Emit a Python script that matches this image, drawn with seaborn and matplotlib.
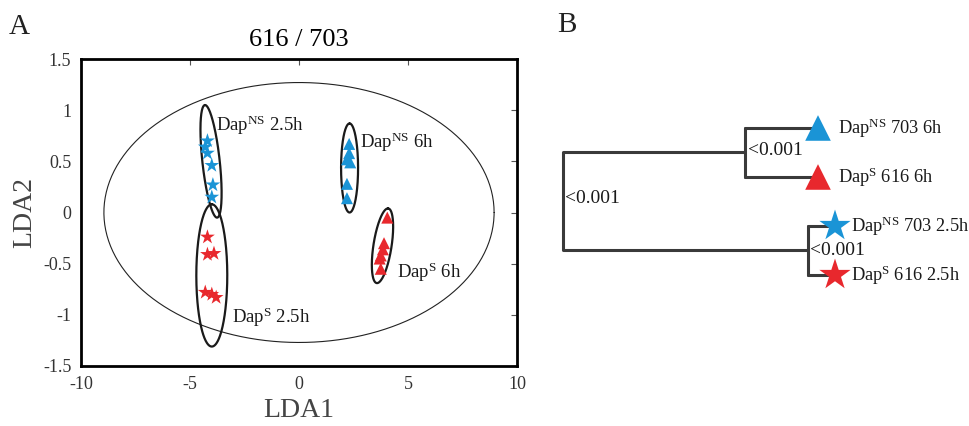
import numpy as np
import pandas as pd
import matplotlib
matplotlib.use("Agg")
import matplotlib.pyplot as plt
import seaborn as sns

# ---------------- data: panel A (LDA scores) ----------------
ns25_x = [-4.2, -4.3, -4.2, -4.0, -3.95, -4.0]
ns25_y = [0.70, 0.64, 0.58, 0.46, 0.27, 0.15]
s25_x = [-4.2, -4.2, -3.9, -4.3, -4.0, -3.8]
s25_y = [-0.24, -0.41, -0.40, -0.78, -0.80, -0.83]
ns6_x = [2.3, 2.3, 2.2, 2.35, 2.2, 2.2]
ns6_y = [0.67, 0.58, 0.52, 0.49, 0.28, 0.14]
s6_x = [4.05, 3.9, 3.85, 3.75, 3.7, 3.75]
s6_y = [-0.05, -0.30, -0.36, -0.42, -0.45, -0.55]

group_names = ["NS 2.5h", "S 2.5h", "NS 6h", "S 6h"]
group_strain = ["NS", "S", "NS", "S"]
group_time = ["2.5h", "2.5h", "6h", "6h"]

# group ellipses: major-axis end points (top, bottom) and minor half-width
ell_top = [(-4.31, 1.05), (-4.0, 0.08), (2.32, 0.87), (4.08, 0.04)]
ell_bot = [(-3.76, -0.05), (-4.0, -1.31), (2.32, 0.0), (3.58, -0.69)]
ell_w = [0.40, 0.71, 0.39, 0.42]
# overall ellipse
big_center = (0.0, 0.0)
big_a, big_b = 8.95, 1.27

labelA_text = [r"Dap$^{\mathrm{NS}}$ 2.5h", r"Dap$^{\mathrm{S}}$ 2.5h",
               r"Dap$^{\mathrm{NS}}$ 6h", r"Dap$^{\mathrm{S}}$ 6h"]
labelA_pos = [(-3.8, 0.85), (-3.07, -1.02), (2.8, 0.69), (4.5, -0.58)]

x_ticks = [-10, -5, 0, 5, 10]
y_ticks = [-1.5, -1, -0.5, 0, 0.5, 1, 1.5]

# ---------------- data: panel B (dendrogram) ----------------
leaf_labels = [r"Dap$^{\mathrm{NS}}$ 703 6h", r"Dap$^{\mathrm{S}}$ 616 6h",
               r"Dap$^{\mathrm{NS}}$ 703 2.5h", r"Dap$^{\mathrm{S}}$ 616 2.5h"]
leaf_strain = ["NS", "S", "NS", "S"]
leaf_time = ["6h", "6h", "2.5h", "2.5h"]
leaf_y = [0, 1, 2, 3]
leaf_x = [2.55, 2.55, 2.72, 2.72]
merge_upper_x = 1.82
merge_lower_x = 2.45
root_x = 0.0
p_labels = ["<0.001", "<0.001", "<0.001"]

# ---------------- style ----------------
sns.set_theme(style="white")
plt.rcParams["font.family"] = ["Liberation Serif", "DejaVu Serif"]
plt.rcParams["mathtext.fontset"] = "custom"
plt.rcParams["mathtext.rm"] = "Liberation Serif"
plt.rcParams["mathtext.it"] = "Liberation Serif:italic"
plt.rcParams["mathtext.bf"] = "Liberation Serif:bold"

BLUE = "#1A94D6"
RED = "#E8282D"
palette = {"NS": BLUE, "S": RED}
markers = {"2.5h": "*", "6h": "^"}

fig = plt.figure(figsize=(9.7, 4.26), dpi=100)
axA = fig.add_axes([81 / 970, 60 / 426, 436 / 970, 307 / 426])
axB = fig.add_axes([540 / 970, 126 / 426, 430 / 970, 200 / 426])

# ---------------- panel A ----------------
xs = [ns25_x, s25_x, ns6_x, s6_x]
ys = [ns25_y, s25_y, ns6_y, s6_y]
rows = []
for g, st, tm, gx, gy in zip(group_names, group_strain, group_time, xs, ys):
    for a, b in zip(gx, gy):
        rows.append({"LDA1": a, "LDA2": b, "strain": st, "time": tm})
dfA = pd.DataFrame(rows)

t = np.linspace(0, 2 * np.pi, 300)
# big ellipse
axA.plot(big_center[0] + big_a * np.cos(t), big_center[1] + big_b * np.sin(t),
         color="#222222", lw=0.8, zorder=1)
for top, bot, w in zip(ell_top, ell_bot, ell_w):
    cx, cy = (top[0] + bot[0]) / 2, (top[1] + bot[1]) / 2
    mx, my = top[0] - cx, top[1] - cy
    axA.plot(cx + mx * np.cos(t) + w * np.sin(t), cy + my * np.cos(t),
             color="#1a1a1a", lw=1.6, zorder=2)

for tm, sz in [("2.5h", 125), ("6h", 75)]:
    sub = dfA[dfA["time"] == tm]
    sns.scatterplot(data=sub, x="LDA1", y="LDA2", hue="strain", palette=palette,
                    marker=markers[tm], s=sz, linewidth=0, legend=False,
                    ax=axA, zorder=3)

for txt, (px, py) in zip(labelA_text, labelA_pos):
    axA.text(px, py, txt, fontsize=13.5, ha="left", va="center", color="#1a1a1a")

axA.set_xlim(-10, 10)
axA.set_ylim(-1.5, 1.5)
axA.set_xticks(x_ticks)
axA.set_xticklabels([f"{v:g}" for v in x_ticks])
axA.set_yticks(y_ticks)
axA.set_yticklabels([f"{v:g}" for v in y_ticks])
axA.tick_params(direction="in", length=4, width=0.8, top=True, right=True,
                labelsize=13, labelcolor="#333333", color="#555555", pad=7)
axA.set_xlabel("LDA1", fontsize=20, color="#444444", labelpad=4)
axA.set_ylabel("LDA2", fontsize=20, color="#444444", labelpad=4)
for sp in axA.spines.values():
    sp.set_visible(True)
    sp.set_color("black")
    sp.set_linewidth(2.0)

fig.text(299 / 970, 1 - 40 / 426, "616 / 703", fontsize=19, ha="center", va="center",
         color="black")
fig.text(19 / 970, 1 - 27 / 426, "A", fontsize=21, ha="center", va="center", color="#222222")
fig.text(567 / 970, 1 - 25 / 426, "B", fontsize=21, ha="center", va="center", color="#222222")

# ---------------- panel B ----------------
lc = "#3a3a3a"
lw = 2.2
axB.plot([root_x, root_x], [0.5, 2.5], color=lc, lw=lw, solid_capstyle="butt")
axB.plot([root_x, merge_upper_x], [0.5, 0.5], color=lc, lw=lw)
axB.plot([root_x, merge_lower_x], [2.5, 2.5], color=lc, lw=lw)
axB.plot([merge_upper_x, merge_upper_x], [leaf_y[0], leaf_y[1]], color=lc, lw=lw)
axB.plot([merge_lower_x, merge_lower_x], [leaf_y[2], leaf_y[3]], color=lc, lw=lw)
for i in range(2):
    axB.plot([merge_upper_x, leaf_x[i]], [leaf_y[i], leaf_y[i]], color=lc, lw=lw)
for i in range(2, 4):
    axB.plot([merge_lower_x, leaf_x[i]], [leaf_y[i], leaf_y[i]], color=lc, lw=lw)

dfB = pd.DataFrame({"x": leaf_x, "y": leaf_y, "strain": leaf_strain, "time": leaf_time})
for tm, sz in [("2.5h", 560), ("6h", 340)]:
    sub = dfB[dfB["time"] == tm]
    sns.scatterplot(data=sub, x="x", y="y", hue="strain", palette=palette,
                    marker=markers[tm], s=sz, linewidth=0, legend=False,
                    ax=axB, zorder=3)

for i, lab in enumerate(leaf_labels):
    off = 0.20 if leaf_time[i] == "6h" else 0.16
    axB.text(leaf_x[i] + off, leaf_y[i], lab, fontsize=13.2, ha="left", va="center",
             color="#1a1a1a")

axB.text(merge_upper_x + 0.03, 0.45, p_labels[0], fontsize=14, ha="left", va="center",
         color="#1a1a1a")
axB.text(root_x + 0.02, 1.43, p_labels[1], fontsize=14, ha="left", va="center",
         color="#1a1a1a")
axB.text(merge_lower_x + 0.02, 2.5, p_labels[2], fontsize=14, ha="left", va="center",
         color="#1a1a1a")

axB.set_xlim(-0.23, 4.07)
axB.set_ylim(3.511, -0.571)
axB.set_axis_off()

fig.savefig("out.png", dpi=100)
